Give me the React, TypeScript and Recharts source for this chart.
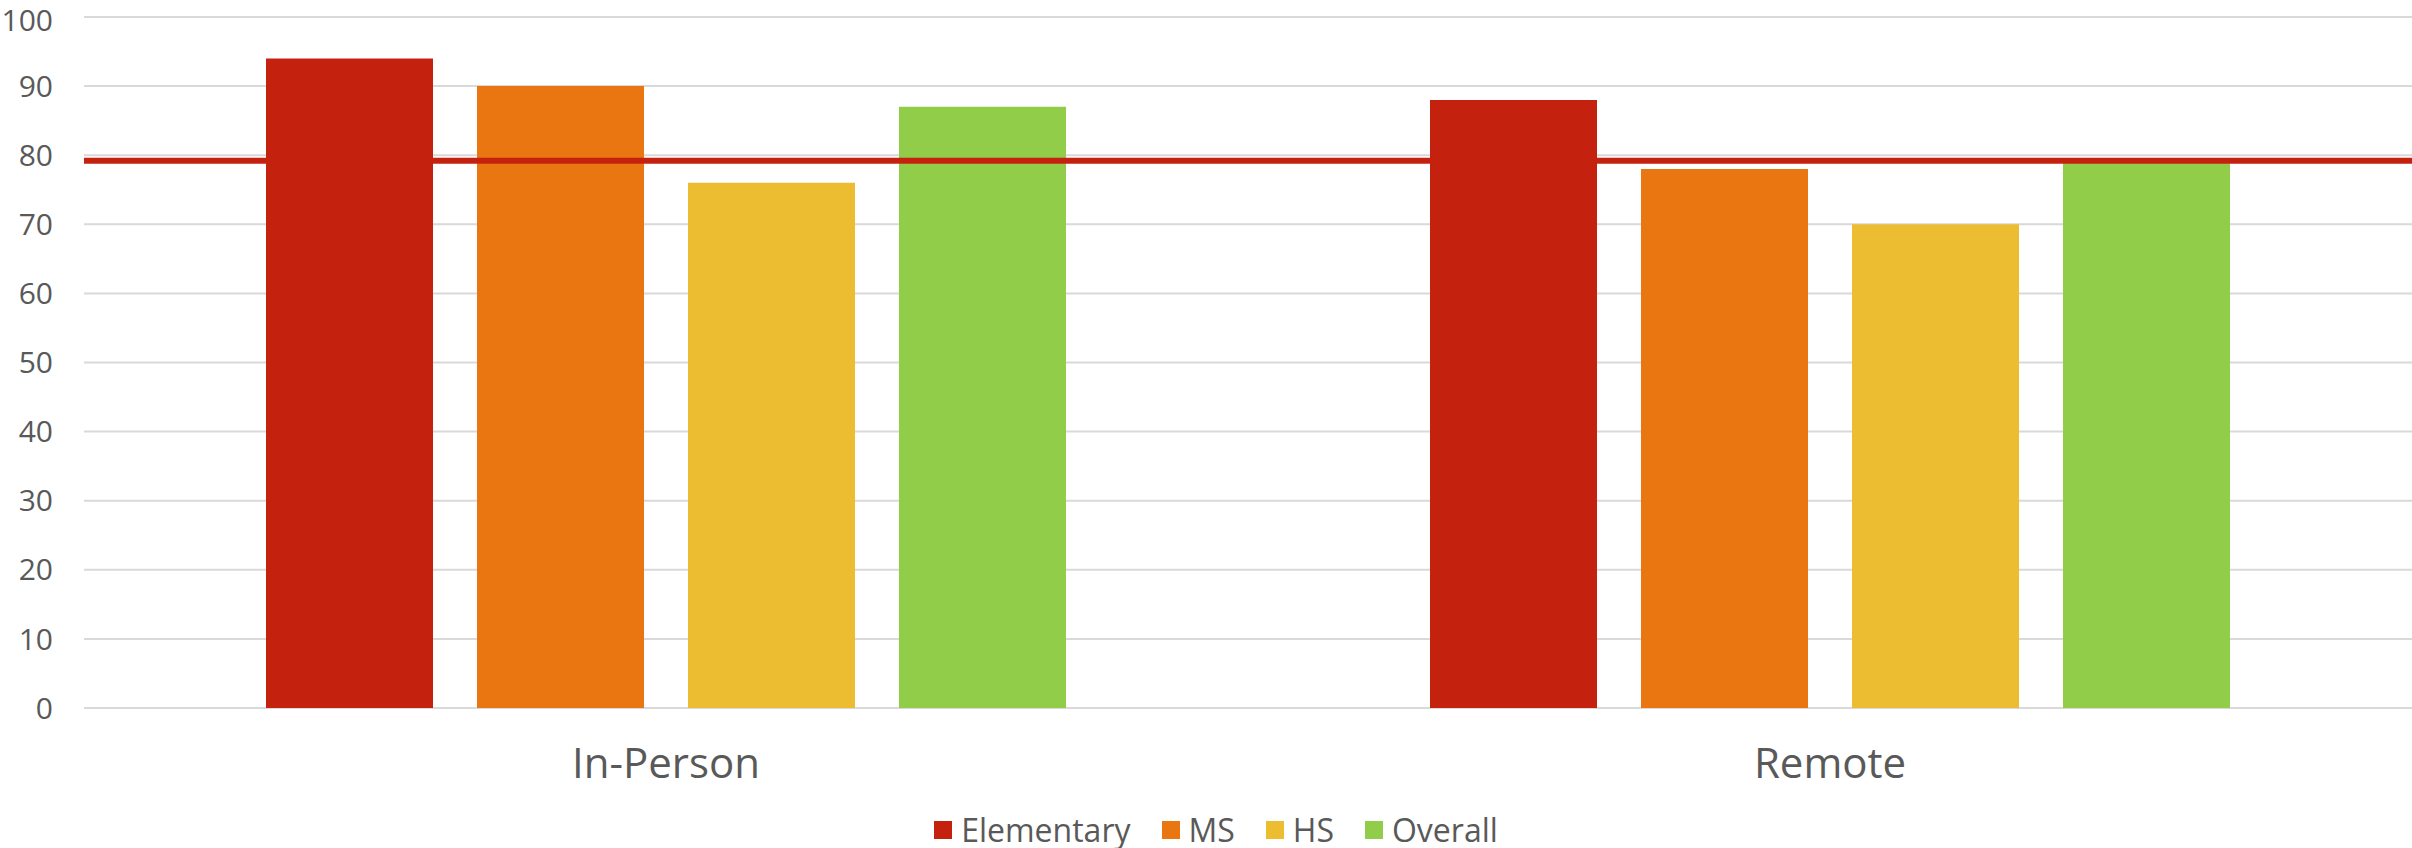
import React from 'react';
import {
  BarChart,
  Bar,
  XAxis,
  YAxis,
  CartesianGrid,
  Legend,
  ReferenceLine,
} from 'recharts';

const categories = ['In-Person', 'Remote'];
const elementary = [94, 88];
const ms = [90, 78];
const hs = [76, 70];
const overall = [87, 79];
const yTicks = [0, 10, 20, 30, 40, 50, 60, 70, 80, 90, 100];
const targetValue = 79.2;

const series = [
  { key: 'Elementary', values: elementary, color: '#C4220F' },
  { key: 'MS', values: ms, color: '#EA7612' },
  { key: 'HS', values: hs, color: '#ECBC31' },
  { key: 'Overall', values: overall, color: '#92CD4A' },
];

const data = categories.map((name, i) => {
  const row: any = { name };
  series.forEach((s) => {
    row[s.key] = s.values[i];
  });
  return row;
});

const FONT = '"Open Sans", sans-serif';
const TEXT = '#595959';

// legend drawn by hand so the spacing matches the original
const renderLegend = () => (
  <div
    style={{
      display: 'flex',
      justifyContent: 'center',
      alignItems: 'center',
      height: 36,
      fontFamily: FONT,
      fontSize: 32,
      color: TEXT,
      paddingLeft: 20,
    }}
  >
    {series.map((s, i) => (
      <div
        key={s.key}
        style={{
          display: 'flex',
          alignItems: 'center',
          marginLeft: i === 0 ? 0 : 31,
        }}
      >
        <span
          style={{
            width: 18,
            height: 18,
            background: s.color,
            display: 'inline-block',
            marginRight: 9,
          }}
        />
        <span style={{ lineHeight: '36px' }}>{s.key}</span>
      </div>
    ))}
  </div>
);

// keeps the top label ("100") inside the picture
const YTick = (props: any) => {
  const { x, y, payload } = props;
  const shift = payload.value === 100 ? 3 : 0;
  return (
    <text
      x={x}
      y={y + shift}
      dy="0.355em"
      textAnchor="end"
      fontFamily={FONT}
      fontSize={30}
      fill={TEXT}
    >
      {payload.value}
    </text>
  );
};

export default function App() {
  return (
    <div style={{ position: 'absolute', left: 0, top: 0, background: '#fff' }}>
      <BarChart
        width={2412}
        height={848}
        data={data}
        margin={{ top: 17, right: 0, bottom: 0, left: 0 }}
        barGap={44}
        barSize={167}
      >
        <CartesianGrid
          horizontal={true}
          vertical={false}
          stroke="#D9D9D9"
          strokeWidth={2}
        />
        <XAxis
          dataKey="name"
          axisLine={false}
          tickLine={false}
          tickSize={0}
          tickMargin={40}
          height={104}
          tick={{ fontFamily: FONT, fontSize: 42, fill: TEXT }}
        />
        <YAxis
          domain={[0, 100]}
          ticks={yTicks}
          interval={0}
          axisLine={false}
          tickLine={false}
          tickSize={0}
          tickMargin={31}
          width={84}
          tick={<YTick />}
        />
        <Legend verticalAlign="bottom" height={36} content={renderLegend} />
        {series.map((s) => (
          <Bar key={s.key} dataKey={s.key} fill={s.color} isAnimationActive={false} />
        ))}
        <ReferenceLine y={targetValue} stroke="#C4220F" strokeWidth={6} />
      </BarChart>
    </div>
  );
}
